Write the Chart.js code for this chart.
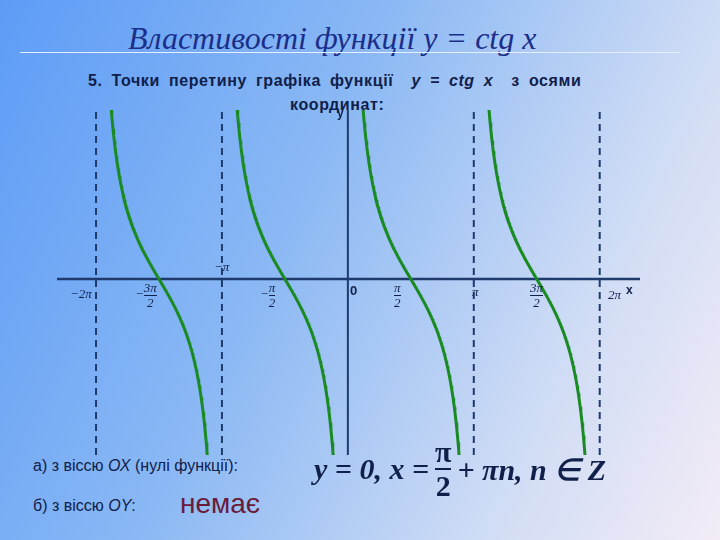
<!DOCTYPE html>
<html><head><meta charset="utf-8">
<script src="https://cdn.jsdelivr.net/npm/chart.js@4"></script>
<style>
body{margin:0;width:720px;height:540px;overflow:hidden;position:relative;
 background:linear-gradient(115deg,#5d9cf6 0%,#8ab8f4 40%,#cfdcf5 75%,#f3ecf6 100%);font-family:"Liberation Sans",Arial,sans-serif;color:#10204a}
.t{position:absolute;white-space:nowrap}
#wrap{position:absolute;left:57px;top:110px;width:583px;height:345px}
.f{position:absolute;font-family:"Liberation Serif",serif;font-style:italic;font-size:13px;text-align:center;line-height:14px;color:#10204a}
.f span{display:block;border-top:1px solid #10204a}
</style></head><body>
<div class="t" style="left:128px;top:20px;font:italic 32px 'Liberation Serif',serif;color:#1b2f8a">Властивості функції y = ctg x</div>
<div class="t" style="left:20px;top:52px;width:660px;border-top:1px solid #e6eefc"></div>
<div class="t" style="left:88px;top:72px;font-weight:bold;font-size:16px;letter-spacing:0.6px;word-spacing:4px">5. Точки перетину графіка функції&nbsp; <i>y = ctg x</i>&nbsp; з осями</div>
<div class="t" style="left:290px;top:96px;font-weight:bold;font-size:16px;letter-spacing:0.6px">координат:</div>
<div id="wrap"><canvas id="c"></canvas></div>
<div class="t" style="left:337px;top:106px;font-size:12px;font-weight:bold">y</div>
<div class="t" style="left:626px;top:283px;font-size:12px;font-weight:bold">x</div>
<div class="t" style="left:350px;top:283px;font-size:13px;font-weight:bold">0</div>
<div class="f" style="left:70px;top:287px">−2π</div>
<div class="f" style="left:214px;top:260px">−π</div>
<div class="f" style="left:472px;top:285px">π</div>
<div class="f" style="left:608px;top:288px">2π</div>
<div class="f" style="left:135px;top:281px">−<div style="display:inline-block;vertical-align:middle">3π<span>2</span></div></div>
<div class="f" style="left:260px;top:281px">−<div style="display:inline-block;vertical-align:middle">π<span>2</span></div></div>
<div class="f" style="left:394px;top:281px"><div style="display:inline-block">π<span>2</span></div></div>
<div class="f" style="left:530px;top:281px"><div style="display:inline-block">3π<span>2</span></div></div>
<div class="t" style="left:33px;top:457px;font-size:16px">а) з віссю <i>ОХ</i> (нулі функції):</div>
<div class="t" style="left:314px;top:436px;font:bold italic 30px 'Liberation Serif',serif;display:flex;align-items:center;gap:6px">y = 0, x = <div style="display:inline-block;text-align:center;line-height:32px;font-style:normal">π<span style="display:block;border-top:2px solid #10204a">2</span></div> + πn, n ∈ Z</div>
<div class="t" style="left:33px;top:497px;font-size:16px">б) з віссю <i>ОY</i>:</div>
<div class="t" style="left:180px;top:488px;font-size:28px;color:#6a1a3a">немає</div>
<script>
const PI = Math.PI;
const branchStarts = [-2*PI, -PI, 0, PI];
const asymptotes = [-2*PI, -PI, PI, 2*PI];
const yMin = -2.6, yMax = 2.5;
const xMin = -2.31*PI, xMax = 2.32*PI;

function branch(a){
  const pts = [];
  for(let i=1;i<200;i++){ const x=a+PI*i/200; pts.push({x, y:1/Math.tan(x)}); }
  return pts;
}
const datasets = branchStarts.map(a=>({data:branch(a),borderColor:"#1a8a22",borderWidth:3,pointRadius:0,showLine:true,tension:0}));
asymptotes.forEach(a=>datasets.push({data:[{x:a,y:yMin},{x:a,y:yMax}],borderColor:"#1f3b6e",borderWidth:2,borderDash:[7,5],pointRadius:0,showLine:true}));
datasets.push({data:[{x:xMin,y:0},{x:xMax,y:0}],borderColor:"#1f3b6e",borderWidth:2.5,pointRadius:0,showLine:true});
datasets.push({data:[{x:0,y:yMin},{x:0,y:yMax}],borderColor:"#1f3b6e",borderWidth:2,pointRadius:0,showLine:true});

new Chart(document.getElementById("c"),{type:"scatter",data:{datasets},
 options:{responsive:true,maintainAspectRatio:false,animation:false,layout:{padding:0},
  plugins:{legend:{display:false},tooltip:{enabled:false}},
  scales:{x:{type:"linear",min:xMin,max:xMax,display:false},y:{min:yMin,max:yMax,display:false}}}});
</script>
</body></html>
